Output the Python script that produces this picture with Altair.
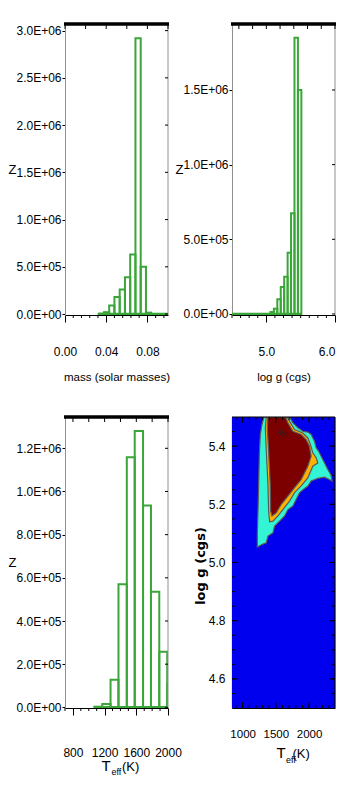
import altair as alt
import pandas as pd

FONT = "Liberation Sans"
GREEN = "#3aa63a"
BLUE = "#0000ee"
CYAN = "#33f5d5"
ORANGE = "#ffb000"
DARKRED = "#7d0000"
OUTLINE = "#5a5a5a"
W = 103
H = 291
LFS = 12

# ---------------- mass histogram ----------------
mass_lo = [0.0327, 0.0378, 0.0429, 0.0480, 0.0531, 0.0582, 0.0633, 0.0684, 0.0735, 0.0786]
mass_hi = [0.0378, 0.0429, 0.0480, 0.0531, 0.0582, 0.0633, 0.0684, 0.0735, 0.0786, 0.0837]
mass_n = [4e3, 2e4, 9e4, 1.8e5, 2.6e5, 3.9e5, 6.3e5, 2.92e6, 5.0e5, 1.5e4]
mass_base = [0.0327, 0.1]
mass_xdom = [0.0, 0.1]
mass_ydom = [-1e4, 3.07e6]
mass_xlabels = [0.0, 0.04, 0.08]
mass_xminor = [0.008, 0.016, 0.024, 0.032, 0.048, 0.056, 0.064, 0.072, 0.088, 0.096]
mass_xtop = [0.0, 0.02, 0.04, 0.06, 0.08, 0.1]
mass_yticks = [0, 5e5, 1e6, 1.5e6, 2e6, 2.5e6, 3e6]

# ---------------- log g histogram ----------------
logg_lo = [5.06, 5.11, 5.16, 5.21, 5.26, 5.31, 5.36, 5.41, 5.46]
logg_hi = [5.11, 5.16, 5.21, 5.26, 5.31, 5.36, 5.41, 5.46, 5.51]
logg_n = [1.3e4, 3.5e4, 9.8e4, 1.8e5, 2.5e5, 4.1e5, 6.75e5, 1.85e6, 1.5e6]
logg_base = [4.5, 5.51]
logg_xdom = [4.5, 6.0]
logg_ydom = [-7e3, 1.942e6]
logg_xlabels = [5.0, 6.0]
logg_xminor = [4.5, 4.625, 4.75, 4.875, 5.125, 5.25, 5.375, 5.5, 5.625, 5.75, 5.875]
logg_xtop = [4.6, 4.8, 5.0, 5.2, 5.4, 5.6, 5.8, 6.0]
logg_yticks = [0, 5e5, 1e6, 1.5e6]

# ---------------- Teff histogram ----------------
teff_lo = [1070, 1170, 1275, 1375, 1480, 1580, 1685, 1785, 1890, 1990]
teff_hi = [1170, 1275, 1375, 1480, 1580, 1685, 1785, 1890, 1990, 2095]
teff_n = [3e3, 1.6e4, 1.28e5, 5.7e5, 1.158e6, 1.28e6, 9.35e5, 5.35e5, 2.57e5, 1.08e5]
teff_base = [1070, 2000]
teff_xdom = [700, 2000]
teff_ydom = [-3e3, 1.345e6]
teff_xlabels = [800, 1200, 1600, 2000]
teff_xminor = [700, 900, 1000, 1100, 1300, 1400, 1500, 1700, 1800, 1900]
teff_xtop = [800, 1000, 1200, 1400, 1600, 1800, 2000]
teff_yticks = [0, 2e5, 4e5, 6e5, 8e5, 1e6, 1.2e6]

# ---------------- contour panel ----------------
ct_xdom = [840, 2390]
ct_ydom = [4.5, 5.5]
ct_xlabels = [1000, 1500, 2000]
ct_xmajor = [1000, 1500, 2000]
ct_xminor = [900, 1000, 1100, 1200, 1300, 1400, 1500, 1600, 1700, 1800, 1900, 2000, 2100, 2200, 2300]
ct_ylabels = [4.6, 4.8, 5.0, 5.2, 5.4]
ct_yminor = [4.55, 4.6, 4.65, 4.7, 4.75, 4.8, 4.85, 4.9, 4.95, 5.0, 5.05, 5.1, 5.15,
             5.2, 5.25, 5.3, 5.35, 5.4, 5.45]

cyan_teff = [1321, 1291, 1266, 1251, 1241, 1231, 1221, 1221, 1291, 1356, 1381, 1456, 1481,
             1581, 1631, 1681, 1756, 1806, 1856, 1931, 1981, 2031, 2131, 2231, 2306, 2346,
             2331, 2281, 2231, 2181, 2141, 2106, 2081, 2031, 1981, 1906, 1831, 1756, 1706, 1321]
cyan_logg = [5.50, 5.474, 5.440, 5.371, 5.268, 5.177, 5.097, 5.053, 5.062, 5.068, 5.091, 5.102,
             5.125, 5.148, 5.160, 5.182, 5.194, 5.217, 5.240, 5.254, 5.263, 5.280, 5.289, 5.293,
             5.285, 5.280, 5.300, 5.320, 5.343, 5.365, 5.383, 5.394, 5.417, 5.440, 5.448, 5.451,
             5.463, 5.480, 5.50, 5.50]
orange_teff = [1356, 1341, 1356, 1381, 1391, 1406, 1456, 1531, 1606, 1706, 1781, 1881, 1981,
               2056, 2131, 2106, 2056, 2021, 1981, 1906, 1781, 1706, 1671, 1356]
orange_logg = [5.50, 5.462, 5.382, 5.268, 5.177, 5.140, 5.142, 5.160, 5.182, 5.211, 5.240, 5.263,
               5.291, 5.331, 5.342, 5.360, 5.377, 5.405, 5.428, 5.445, 5.457, 5.485, 5.50, 5.50]
red_teff = [1381, 1371, 1391, 1416, 1421, 1441, 1506, 1581, 1681, 1781, 1881, 1981, 2031,
            2006, 1956, 1881, 1756, 1681, 1646, 1381]
red_logg = [5.50, 5.462, 5.382, 5.268, 5.177, 5.160, 5.171, 5.200, 5.228, 5.257, 5.285, 5.331,
            5.365, 5.400, 5.422, 5.440, 5.451, 5.480, 5.50, 5.50]
plus_pt = [1571, 5.447]
cross_pt = [1636, 5.442]

EXPR = ("datum.value == 0 ? '0.0E+00' : format(datum.value / pow(10, floor(log(datum.value) / LN10 + 0.000001)), '.1f')"
        " + 'E+' + format(floor(log(datum.value) / LN10 + 0.000001), '02d')")

ONE = pd.DataFrame({"a": [0]})


def ticks_df(vals):
    return pd.DataFrame({"t": vals})


def hist_panel(lo, hi, n, base, xdom, ydom, xlabels, xfmt, xminor, xtop, yticks,
               xtitle, lab_pad, title_y, flush=False):
    xs = alt.Scale(domain=xdom, nice=False, zero=False)
    ys = alt.Scale(domain=ydom, nice=False, zero=False)
    xaxis = alt.Axis(values=xlabels, format=xfmt, title=xtitle,
                     labelFont=FONT, labelFontSize=LFS, labelColor="black",
                     labelBaseline="alphabetic", labelPadding=lab_pad,
                     labelFlush=flush, labelOverlap=False,
                     domainColor="black", domainWidth=1.2, tickColor="black",
                     tickSize=7, tickWidth=1, grid=False,
                     titleFont=FONT, titleFontSize=11.5, titleFontWeight="normal",
                     titleColor="black", titleBaseline="alphabetic", titleY=title_y)
    yaxis = alt.Axis(values=yticks, labelExpr=EXPR, title="Z",
                     labelFont=FONT, labelFontSize=LFS, labelColor="black",
                     labelPadding=1, labelFlush=False, labelOverlap=False,
                     domainColor="#909090", tickColor="black", tickSize=3, grid=False,
                     titleFont=FONT, titleFontSize=13, titleFontWeight="normal",
                     titleColor="black", titleAngle=0, titleX=-57, titleY=H / 2,
                     titleAlign="left", titleBaseline="middle")
    df = pd.DataFrame({"lo": lo, "hi": hi, "n": n})
    bars = alt.Chart(df).mark_rect(fill="transparent", stroke=GREEN, strokeWidth=2,
                                   clip=True).encode(
        x=alt.X("lo:Q", scale=xs, axis=xaxis),
        x2="hi:Q",
        y=alt.Y("n:Q", scale=ys, axis=yaxis),
        y2=alt.Y2Datum(0),
    )
    bdf = pd.DataFrame({"lo": [base[0]], "hi": [base[1]]})
    baseline = alt.Chart(bdf).mark_rule(color=GREEN, strokeWidth=2.5, clip=True).encode(
        x=alt.X("lo:Q", scale=xs, axis=xaxis),
        x2="hi:Q",
        y=alt.YDatum(0, scale=ys, axis=yaxis),
    )
    minor = alt.Chart(ticks_df(xminor)).mark_rule(color="black", strokeWidth=1).encode(
        x=alt.X("t:Q", scale=xs, axis=xaxis),
        y=alt.value(H), y2=alt.value(H + 3),
    )
    top_ticks = alt.Chart(ticks_df(xtop)).mark_rule(color="black", strokeWidth=1).encode(
        x=alt.X("t:Q", scale=xs, axis=xaxis),
        y=alt.value(0), y2=alt.value(5),
    )
    right_ticks = alt.Chart(ticks_df(yticks)).mark_rule(color="black", strokeWidth=1).encode(
        y=alt.Y("t:Q", scale=ys, axis=yaxis),
        x=alt.value(W - 3), x2=alt.value(W),
    )
    right_line = alt.Chart(ONE).mark_rule(color="#909090", strokeWidth=1).encode(
        x=alt.value(W), y=alt.value(0), y2=alt.value(H))
    top_line = alt.Chart(ONE).mark_rule(color="black", strokeWidth=3.5).encode(
        x=alt.value(-1), x2=alt.value(W + 1), y=alt.value(0))
    return alt.layer(bars, baseline, minor, right_line, right_ticks, top_ticks,
                     top_line).properties(width=W, height=H)


def teff_title(tx, ex, kx, ty, ey, ky):
    t1 = alt.Chart(ONE).mark_text(text="T", font=FONT, fontSize=15, align="left",
                                  baseline="alphabetic", color="black").encode(
        x=alt.value(tx), y=alt.value(ty))
    t2 = alt.Chart(ONE).mark_text(text="eff", font=FONT, fontSize=9, align="left",
                                  baseline="alphabetic", color="black").encode(
        x=alt.value(ex), y=alt.value(ey))
    t3 = alt.Chart(ONE).mark_text(text="(K)", font=FONT, fontSize=13, align="left",
                                  baseline="alphabetic", color="black").encode(
        x=alt.value(kx), y=alt.value(ky))
    return [t1, t2, t3]


p_mass = hist_panel(mass_lo, mass_hi, mass_n, mass_base, mass_xdom, mass_ydom,
                    mass_xlabels, ".2f", mass_xminor, mass_xtop, mass_yticks,
                    "mass (solar masses)", 33, 65)
p_logg = hist_panel(logg_lo, logg_hi, logg_n, logg_base, logg_xdom, logg_ydom,
                    logg_xlabels, ".1f", logg_xminor, logg_xtop, logg_yticks,
                    "log g (cgs)", 33, 65, flush=True)
p_teff = hist_panel(teff_lo, teff_hi, teff_n, teff_base, teff_xdom, teff_ydom,
                    teff_xlabels, "d", teff_xminor, teff_xtop, teff_yticks,
                    None, 41, 60)
p_teff = alt.layer(p_teff, *teff_title(36.5, 46.5, 57.0, 354, 357.5, 354))

# ---- contour panel ----
cxs = alt.Scale(domain=ct_xdom, nice=False, zero=False)
cys = alt.Scale(domain=ct_ydom, nice=False, zero=False)

cxax = alt.Axis(values=ct_xlabels, format="d", title=None, ticks=False, tickSize=0,
                labelFont=FONT, labelFontSize=11.5, labelColor="black",
                labelBaseline="alphabetic", labelPadding=29,
                labelFlush=False, labelOverlap=False,
                domainColor="black", domainWidth=1.2, grid=False)
cyax = alt.Axis(values=ct_ylabels, format=".1f", title="log g (cgs)",
                ticks=False, tickSize=0,
                labelFont=FONT, labelFontSize=LFS, labelColor="black",
                labelPadding=7, labelFlush=False, labelOverlap=False,
                domainColor="black", domainWidth=1.2, grid=False,
                titleFont="DejaVu Sans", titleFontSize=13, titleFontWeight="bold",
                titleColor="black", titleAngle=270, titleX=-32, titleY=H / 2 + 3,
                titleAlign="center", titleBaseline="middle")

bg = alt.Chart(ONE).mark_rect(color=BLUE).encode(
    x=alt.value(0), x2=alt.value(W), y=alt.value(0), y2=alt.value(H))


def poly(tv, gv, color):
    df = pd.DataFrame({"teff": tv, "logg": gv, "i": list(range(len(tv)))})
    return alt.Chart(df).mark_line(fill=color, stroke=OUTLINE, strokeWidth=1.2,
                                   clip=True).encode(
        x=alt.X("teff:Q", scale=cxs, axis=cxax),
        y=alt.Y("logg:Q", scale=cys, axis=cyax),
        order="i:Q",
    )


c_cyan = poly(cyan_teff, cyan_logg, CYAN)
c_orange = poly(orange_teff, orange_logg, ORANGE)
c_red = poly(red_teff, red_logg, DARKRED)

mk_plus = pd.DataFrame({"teff": [plus_pt[0]], "logg": [plus_pt[1]]})
mk_cross = pd.DataFrame({"teff": [cross_pt[0]], "logg": [cross_pt[1]]})
plus = alt.Chart(mk_plus).mark_point(
    shape="M-1,0L1,0M0,-1L0,1", size=45, stroke="#222", strokeWidth=1, filled=False).encode(
    x=alt.X("teff:Q", scale=cxs, axis=cxax), y=alt.Y("logg:Q", scale=cys, axis=cyax))
cross = alt.Chart(mk_cross).mark_point(
    shape="M-1,-1L1,1M-1,1L1,-1", size=35, stroke="#222", strokeWidth=1, filled=False).encode(
    x=alt.X("teff:Q", scale=cxs, axis=cxax), y=alt.Y("logg:Q", scale=cys, axis=cyax))


def xrule(vals, y0, y1):
    return alt.Chart(ticks_df(vals)).mark_rule(color="black").encode(
        x=alt.X("t:Q", scale=cxs, axis=cxax), y=alt.value(y0), y2=alt.value(y1))


def yrule(vals, x0, x1):
    return alt.Chart(ticks_df(vals)).mark_rule(color="black").encode(
        y=alt.Y("t:Q", scale=cys, axis=cyax), x=alt.value(x0), x2=alt.value(x1))


c_frame_top = alt.Chart(ONE).mark_rule(color="black", strokeWidth=1.2).encode(
    x=alt.value(0), x2=alt.value(W), y=alt.value(0))
c_frame_right = alt.Chart(ONE).mark_rule(color="black", strokeWidth=1.2).encode(
    x=alt.value(W), y=alt.value(0), y2=alt.value(H))

p_cont = alt.layer(bg, c_cyan, c_orange, c_red, plus, cross,
                   xrule(ct_xminor, H - 3, H), xrule(ct_xmajor, H - 6, H),
                   xrule(ct_xminor, 0, 3), xrule(ct_xmajor, 0, 6),
                   yrule(ct_yminor, 0, 3), yrule(ct_ylabels, 0, 6),
                   yrule(ct_yminor, W - 3, W), yrule(ct_ylabels, W - 6, W),
                   c_frame_top, c_frame_right,
                   *teff_title(44.4, 54.0, 60.5, 341, 346, 341)).properties(width=W, height=H)

chart = alt.concat(p_mass, p_logg, p_teff, p_cont, columns=2,
                   spacing={"row": 102, "column": 64}, bounds="flush").properties(
    padding={"left": 0, "top": 14, "right": 0, "bottom": 0},
    background="white",
).configure_view(stroke=None)

chart.save("out.html", embed_options={"renderer": "svg", "actions": False})
